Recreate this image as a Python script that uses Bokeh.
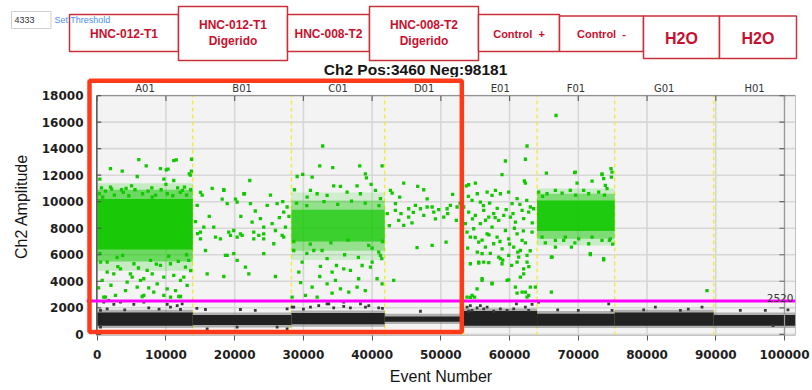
from bokeh.plotting import figure
from bokeh.layouts import column
from bokeh.models import Range1d, FixedTicker, Span, Label, BoxAnnotation, BasicTickFormatter
from bokeh.core.properties import value
from bokeh.embed import file_html
from bokeh.resources import INLINE

# ---------------- data ----------------
title_text = "Ch2 Pos:3460 Neg:98181"
x_label = "Event Number"
y_label = "Ch2 Amplitude"
wells = ["A01", "B01", "C01", "D01", "E01", "F01", "G01", "H01"]
well_edges = [0, 13900, 28260, 41830, 53300, 64000, 75290, 89690, 101600]
x_ticks = [0, 10000, 20000, 30000, 40000, 50000, 60000, 70000, 80000, 90000, 100000]
y_ticks = [0, 2000, 4000, 6000, 8000, 10000, 12000, 14000, 16000, 18000]
threshold = 2520
threshold_box_value = "4333"
header_labels = [["HNC-012-T1"], ["HNC-012-T1", "Digerido"], ["HNC-008-T2"],
                 ["HNC-008-T2", "Digerido"], ["Control\u00a0\u00a0+"], ["Control\u00a0\u00a0-"], ["H2O"], ["H2O"]]
highlighted_wells = ["A01", "B01", "C01", "D01"]

# negative (black) droplet band per well
band_low = [650, 700, 750, 950, 650, 650, 650, 650]
band_high = [1650, 1450, 1600, 1350, 1750, 1550, 1650, 1450]

# dense positive (green) clusters: core, fringe and outer halo amplitude limits
core_wells = ["A01", "C01", "F01"]
core_lo = [6400, 7000, 7800]
core_hi = [10200, 9400, 10100]
fringe_lo = [5500, 6300, 7200]
fringe_hi = [10900, 10100, 10600]
halo_lo = [4800, 5600, 6700]
halo_hi = [11400, 10700, 11000]

a01_pos = [(6050, 13170), (11140, 13100), (11500, 13150), (13720, 13200), (1930, 12500), (3640, 12300),
           (7130, 12700), (9200, 12500), (10040, 12400), (10300, 12450), (380, 11700), (5820, 11900),
           (13570, 12000), (13700, 12300), (13400, 12100), (11140, 11600), (9700, 11700), (625, 11050),
           (1930, 11100), (3540, 10900), (5000, 11200), (7950, 11050), (10000, 11300), (11700, 11050),
           (12400, 10850), (300, 10600), (1200, 10800), (2500, 10500), (3800, 10700), (4600, 10450),
           (5500, 10900), (6600, 10600), (7400, 10800), (8500, 10500), (9300, 10900), (10200, 10600),
           (11000, 10450), (12100, 10700), (13000, 10500), (13600, 10900), (800, 10350), (2100, 10950),
           (4200, 11000), (8000, 10350), (12700, 11100), (480, 5440), (1450, 4690), (2410, 4560),
           (3390, 4940), (4360, 3930), (5090, 4310), (6300, 4060), (6780, 4190), (7270, 4820),
           (8230, 3180), (8730, 3810), (10180, 3430), (10660, 5320), (11140, 4440), (12120, 4060),
           (12600, 4310), (12840, 5060), (13320, 5570), (730, 4060), (1210, 2800), (2660, 2930),
           (4120, 3300), (6780, 2930), (9690, 2930), (11870, 2850), (1450, 5440), (2900, 5800),
           (5340, 5320), (7760, 5570), (9200, 5200), (4830, 4560), (5820, 3560), (8000, 4560),
           (9690, 4310), (13080, 3690), (960, 2800), (6540, 2850), (10660, 2800), (12120, 2850),
           (3000, 5100), (6000, 5000), (8600, 5300), (11800, 5500), (13600, 4800), (200, 3500),
           (2000, 3700), (7500, 3500), (11400, 3300), (13000, 6000), (400, 6100), (3700, 5950),
           (10400, 5900)]
b01_pos = [(15030, 10700), (15270, 10500), (16730, 11000), (18420, 10900), (18180, 10200), (18910, 9850),
           (20120, 10200), (20360, 9970), (22200, 11600), (21420, 10600), (22300, 9850), (23750, 8720),
           (25210, 10500), (24730, 9720), (26180, 9850), (27140, 9220), (27630, 9600), (14550, 9720),
           (15510, 8080), (15030, 7200), (16960, 8080), (17210, 7330), (17930, 7200), (19140, 7700),
           (19870, 7830), (20360, 7330), (21090, 7460), (22540, 8460), (22780, 7700), (23510, 7460),
           (24230, 7200), (25450, 8340), (25930, 7830), (26910, 7460), (27390, 8080), (24230, 8080),
           (15750, 6320), (18660, 5950), (19870, 6080), (20360, 5570), (21570, 5060), (16000, 4560),
           (18420, 4360), (25930, 4360), (24230, 6080), (18910, 5950), (22060, 4560), (15030, 7700),
           (19390, 7460), (20840, 7580), (22780, 7200), (24230, 7580), (25690, 6830), (27140, 7330),
           (18420, 10850), (21330, 10600), (14300, 8500), (14600, 7600), (27900, 8900), (26500, 8800),
           (16300, 8900), (20900, 8900), (23000, 9300), (27000, 10000)]
c01_pos = [(32810, 14200), (32380, 12700), (34270, 12570), (38200, 12700), (41450, 12700), (29090, 11900),
           (29900, 12060), (31270, 11860), (39020, 12100), (39170, 11800), (34410, 11200), (35390, 11150),
           (37810, 11200), (39850, 11300), (28700, 10900), (31030, 10850), (32000, 10600), (33450, 10470),
           (36360, 10720), (40480, 10850), (38300, 10600), (30540, 10350), (41210, 10230), (29000, 9900),
           (30500, 9700), (33000, 10000), (35000, 9800), (37000, 10050), (39000, 9900), (41000, 9700),
           (28600, 7000), (31000, 6800), (34000, 6900), (36500, 7100), (39500, 6700), (41500, 7000),
           (28600, 6320), (29820, 5440), (29330, 4690), (31510, 6320), (32720, 6320), (33450, 5700),
           (32480, 5120), (32380, 4360), (34810, 5190), (35870, 4940), (34180, 4690), (36840, 4820),
           (38540, 5190), (39750, 5060), (40000, 5440), (40960, 6200), (41210, 5950), (41400, 5700),
           (38050, 4190), (40720, 4190), (41450, 3810), (31270, 3560), (33450, 3810), (34660, 4060),
           (35390, 3430), (36600, 3180), (34180, 3100), (37810, 3560), (30300, 2930), (32000, 2800),
           (28360, 2800), (36000, 6000), (38000, 5800), (30500, 6100), (40000, 6500), (39000, 3300),
           (29600, 3900)]
d01_pos = [(44600, 11400), (46630, 11150), (47510, 10900), (42660, 10850), (42910, 10650), (48000, 10220),
           (44010, 10350), (43390, 9850), (46300, 9720), (45320, 9470), (47030, 9470), (48000, 9600),
           (48730, 9600), (49690, 9400), (50910, 9470), (51720, 10550), (51390, 9720), (52360, 9600),
           (43390, 9340), (43870, 8590), (44600, 8210), (45320, 8840), (47510, 8970), (48970, 9220),
           (50420, 8840), (52260, 8590), (46540, 6530), (48730, 6700), (50760, 6950), (43140, 4060),
           (42200, 9100), (42500, 8200), (44200, 9100), (46000, 9200), (49200, 8700), (51000, 9100),
           (52800, 9900), (45800, 8400)]
e01_pos = [(62540, 14200), (62300, 13200), (59390, 13070), (58900, 12040), (62150, 11560), (62300, 11400),
           (55020, 11400), (54050, 11280), (53710, 11200), (54540, 10100), (55750, 9970), (56730, 10720),
           (57450, 10470), (57940, 10850), (58660, 10600), (59870, 10720), (60360, 9850), (61090, 10230),
           (61820, 9340), (63020, 9600), (63500, 9470), (54050, 9220), (55020, 8970), (56240, 9340),
           (56970, 8840), (57690, 9100), (58420, 8590), (59150, 8970), (60120, 8840), (60840, 8460),
           (62050, 8720), (62780, 9220), (53570, 8340), (54780, 7960), (55750, 8340), (56730, 7580),
           (57450, 8080), (58180, 7330), (59390, 7830), (59870, 7200), (61090, 7580), (61820, 7080),
           (63270, 7700), (54290, 7330), (55510, 6950), (56480, 6570), (57690, 6830), (58910, 6450),
           (60600, 6570), (61570, 6320), (62540, 5950), (56000, 6080), (58420, 5820), (59870, 5950),
           (54290, 5320), (55510, 5440), (61090, 5440), (62050, 4940), (61570, 4310), (59870, 4110),
           (56000, 4190), (57450, 3810), (55270, 3430), (60840, 3560), (62300, 3180), (62780, 2930),
           (63750, 3560), (53320, 9600), (54540, 2930), (55510, 5370), (56240, 5440), (56970, 5400),
           (58660, 5700), (58900, 5320), (61330, 5820), (62540, 5440), (56000, 4060), (57450, 3860),
           (59630, 4060), (62050, 4560), (61090, 3100), (61820, 3180), (62540, 2800), (53810, 2800),
           (54300, 2780), (54900, 2800), (63020, 3560), (54000, 10400), (55300, 10600), (56200, 9700),
           (57100, 9900), (58200, 9500), (59500, 9400), (60500, 9100), (61500, 9800), (62500, 10100),
           (63300, 8400), (53800, 7700), (55000, 7300), (56000, 7100), (57000, 7500), (58600, 7000),
           (60000, 6800), (61200, 6200), (62300, 6900), (63000, 6300), (53900, 6500), (55300, 6200),
           (57200, 6100), (59000, 5600), (60300, 5200), (62800, 5100), (57900, 8800), (60700, 8000),
           (62000, 7800), (56500, 8600), (54600, 8700)]
f01_pos = [(66760, 16500), (65350, 12160), (69570, 12230), (73450, 12100), (74760, 12500), (74900, 12230),
           (73690, 11740), (69820, 11400), (72000, 11550), (69470, 12190), (73450, 12040), (73930, 11230),
           (74810, 11860), (64230, 10720), (66660, 10850), (68840, 10850), (70780, 10850), (72960, 10720),
           (74180, 10980), (65450, 10600), (67640, 10650), (71510, 10600), (64800, 10400), (69600, 10500),
           (73800, 10500), (64730, 7330), (66660, 7080), (68110, 7330), (70050, 7200), (72000, 7330),
           (73450, 7080), (74660, 7200), (66660, 6570), (68990, 6570), (71510, 6830), (71750, 6080),
           (73690, 5700), (66080, 5820), (66080, 3180), (74520, 7080), (66180, 5820), (71750, 6020),
           (73690, 5620), (67870, 7080), (65200, 6900), (69500, 6900), (75000, 6800)]
g01_pos = [(88730, 3300)]
neg_outliers = [(960, 2420), (1690, 2550), (2420, 2250), (3390, 2420), (5330, 2250), (6780, 2420),
                (10180, 2250), (10660, 2050), (11640, 2170), (12120, 1870), (480, 1800), (1450, 1920),
                (12360, 2300), (20840, 1870), (15750, 1870), (28360, 2050), (27630, 1920), (26180, 540),
                (27630, 410), (16000, 410), (20360, 540), (480, 540), (28600, 2050), (31030, 2050),
                (32230, 2170), (33690, 2300), (34410, 2000), (35870, 2100), (36840, 2000), (38300, 2300),
                (39030, 2050), (40960, 2000), (47030, 1740), (54290, 2170), (55270, 2000), (56240, 1920),
                (54050, 1740), (53810, 2050), (54540, 1800), (55750, 2170), (56730, 2050), (57690, 1740),
                (58660, 1920), (59630, 1800), (60600, 1920), (62300, 2050), (62780, 1800), (63270, 2250),
                (64230, 2420), (74420, 2300), (74910, 1800), (79510, 1850), (81210, 2050), (84850, 1800),
                (88000, 2050), (93570, 1800), (97210, 1800), (33450, 2300), (35870, 2420), (39510, 2170),
                (98330, 660), (7500, 2000), (9000, 1900), (4000, 1850), (14500, 1950), (23000, 1800),
                (30000, 1900), (41500, 1950), (61000, 2300), (67000, 1850), (70000, 1800), (86000, 1900),
                (100500, 1850)]

# ---------------- layout ----------------
W, H = 812, 390
HDR_H = 77                      # header strip height (px)
FL, FR, FB = 86, 795, 335       # main frame edges on the page (px)
X0, X1 = -1557, 101600          # x range covering the main frame
Y0, Y1 = -90, 19367             # y range covering the main frame
PX0, PY1 = -60, 18000           # plotting-area corner (left, top)

FONT = "Liberation Sans"
TEXT_RED = "#c8102e"

# ---------- header strip ----------
hdr = figure(width=W, height=HDR_H, output_backend="svg", toolbar_location=None, title=None,
             x_range=Range1d(0, W), y_range=Range1d(HDR_H, 0), x_axis_type=None, y_axis_type=None,
             min_border=0, background_fill_color="white", border_fill_color="white",
             outline_line_color=None)
hdr.grid.visible = False

box_geo = [(69, 178, 14, 51), (178, 287, 6, 60), (287, 369, 14, 51), (369, 478, 6, 60),
           (478, 559, 14, 51), (559, 643, 15.5, 51), (643, 719, 15.5, 58), (719, 796, 15.5, 58)]
box_font = [12, 12, 12, 12, 11, 11, 16, 16]
hdr.quad(left=[g[0] for g in box_geo], right=[g[1] for g in box_geo],
         top=[g[2] for g in box_geo], bottom=[g[3] for g in box_geo],
         fill_color="white", line_color="#c9303a", line_width=1.5)
tx, ty, tt, tf = [], [], [], []
for (l, r, t, b), lines, fs in zip(box_geo, header_labels, box_font):
    cx = (l + r) / 2
    cys = [33.3 if fs < 16 else 37.5] if len(lines) == 1 else [24.5, 40.7]
    for txt, cy in zip(lines, cys):
        tx.append(cx); ty.append(cy); tt.append(txt); tf.append(f"{fs}px")
hdr.text(x=tx, y=ty, text=tt, text_font_size=tf, text_font=value(FONT), text_font_style="bold",
         text_color=TEXT_RED, text_align="center", text_baseline="middle")

hdr.quad(left=[11], right=[50.5], top=[11], bottom=[28], fill_color="white", line_color="#cfcfcf", line_width=1)
hdr.text(x=[14], y=[19.8], text=[threshold_box_value], text_font=value(FONT), text_font_size="9px",
         text_color="#333333", text_align="left", text_baseline="middle")
hdr.text(x=[54], y=[19.5], text=["Set Threshold"], text_font=value(FONT), text_font_size="9px",
         text_color="#4a8ff0", text_align="left", text_baseline="middle")
hdr.text(x=[415], y=[69], text=[title_text], text_font=value(FONT), text_font_size="15.5px",
         text_font_style="bold", text_color="#151515", text_align="center", text_baseline="middle")

# ---------- main plot ----------
p = figure(width=W, height=H - HDR_H, output_backend="svg", toolbar_location=None, title=None,
           x_range=Range1d(X0, X1), y_range=Range1d(Y0, Y1),
           min_border_left=FL, min_border_right=W - FR, min_border_top=0, min_border_bottom=H - FB,
           background_fill_color="white", border_fill_color="white", outline_line_color=None)
p.grid.visible = False

for fig in (hdr, p):
    if "frame_align" in fig.properties():
        fig.frame_align = False

for ax in (p.xaxis[0], p.yaxis[0]):
    ax.minor_tick_line_color = None
    ax.axis_line_color = None
    ax.major_tick_line_color = "#555555"
    ax.major_label_text_font = "DejaVu Sans"
    ax.major_label_text_font_size = "12px"
    ax.major_label_text_font_style = "bold"
    ax.major_label_text_color = "#1e1e1e"
    ax.axis_label_text_font = FONT
    ax.axis_label_text_font_size = "16px"
    ax.axis_label_text_font_style = "normal"
    ax.axis_label_text_color = "#151515"

p.xaxis.ticker = FixedTicker(ticks=x_ticks)
p.xaxis.formatter = BasicTickFormatter(use_scientific=False)
p.xaxis.major_tick_out = 5
p.xaxis.major_tick_in = 0
p.xaxis.major_label_standoff = 9
p.xaxis.axis_label = x_label
p.xaxis.axis_label_standoff = 6

p.yaxis.ticker = FixedTicker(ticks=y_ticks)
p.yaxis.major_tick_out = 0
p.yaxis.major_tick_in = 0
p.yaxis.major_label_standoff = 3
p.yaxis.axis_label = y_label
p.yaxis.axis_label_standoff = 9

# plotting area background + grid
p.quad(left=[PX0], right=[X1], bottom=[Y0], top=[PY1], fill_color="#f3f3f3", line_color=None)
p.segment(x0=x_ticks, x1=x_ticks, y0=[Y0] * len(x_ticks), y1=[PY1] * len(x_ticks),
          line_color="#d7d7d7", line_width=1.6)
p.segment(x0=[PX0] * len(y_ticks), x1=[X1] * len(y_ticks), y0=y_ticks, y1=y_ticks,
          line_color="#d7d7d7", line_width=1.6)

# well separators (yellow dashed)
seps = well_edges[1:-1]
p.segment(x0=seps, x1=seps, y0=[Y0] * len(seps), y1=[PY1] * len(seps),
          line_color="#f4ea3c", line_width=1.4, line_dash="4 3")

# negative band
lefts = well_edges[:-1]
rights = well_edges[1:]
p.quad(left=lefts, right=rights, bottom=[b - 180 for b in band_low], top=[t + 200 for t in band_high],
       fill_color="#6e6e6e", fill_alpha=0.5, line_color=None)
p.quad(left=lefts, right=rights, bottom=band_low, top=band_high, fill_color="#222222", line_color=None)

# dense positive clusters
GREEN = "#12c800"
ci = [wells.index(w) for w in core_wells]
halo_alpha = [0.2, 0.15, 0.18]
core_alpha = [0.92, 0.68, 0.88]
fringe_alpha = [0.5, 0.32, 0.42]
for k, i in enumerate(ci):
    p.quad(left=[well_edges[i]], right=[well_edges[i + 1]], bottom=[halo_lo[k]], top=[halo_hi[k]],
           fill_color=GREEN, fill_alpha=halo_alpha[k], line_color=None)
    p.quad(left=[well_edges[i]], right=[well_edges[i + 1]], bottom=[fringe_lo[k]], top=[fringe_hi[k]],
           fill_color=GREEN, fill_alpha=fringe_alpha[k], line_color=None)
    p.quad(left=[well_edges[i]], right=[well_edges[i + 1]], bottom=[core_lo[k]], top=[core_hi[k]],
           fill_color=GREEN, fill_alpha=core_alpha[k], line_color=None)

green_pts = a01_pos + b01_pos + c01_pos + d01_pos + e01_pos + f01_pos + g01_pos
p.scatter(x=[q[0] for q in green_pts], y=[q[1] for q in green_pts], marker="square", size=3.3,
          fill_color=GREEN, line_color=None)
p.scatter(x=[q[0] for q in neg_outliers], y=[q[1] for q in neg_outliers], marker="square", size=2.8,
          fill_color="#3a3a3a", line_color=None)

# frame lines and inner ticks
p.quad(left=[PX0], right=[X1], bottom=[Y0], top=[PY1], fill_color=None, line_color="#8a8a8a", line_width=1)
p.segment(x0=[PX0], x1=[PX0], y0=[Y0], y1=[PY1], line_color="#555555", line_width=1.3)
p.segment(x0=[PX0] * len(y_ticks), x1=[PX0 + 640] * len(y_ticks), y0=y_ticks, y1=y_ticks,
          line_color="#555555", line_width=1.2)
p.segment(x0=x_ticks, x1=x_ticks, y0=[PY1] * len(x_ticks), y1=[PY1 - 400] * len(x_ticks),
          line_color="#666666", line_width=1.2)
p.segment(x0=[x_ticks[-1]], x1=[x_ticks[-1]], y0=[Y0], y1=[PY1], line_color="#9a9a9a", line_width=1.2)
p.segment(x0=[x_ticks[-1] - 750] * len(y_ticks), x1=[x_ticks[-1]] * len(y_ticks), y0=y_ticks, y1=y_ticks,
          line_color="#666666", line_width=1.2)

# well names strip
well_centers = [(well_edges[i] + well_edges[i + 1]) / 2 for i in range(len(wells))]
p.text(x=well_centers, y=[PY1 + 530] * len(wells), text=wells, text_font=value("DejaVu Sans"),
       text_font_size="10px", text_color="#333333", text_align="center", text_baseline="middle")

# threshold
p.add_layout(Span(location=threshold, dimension="width", line_color="#ff00ff", line_width=3))
p.add_layout(Label(x=x_ticks[-1] + 1300, y=threshold + 230, text=str(threshold), text_align="right",
                   text_baseline="alphabetic", text_font="DejaVu Sans", text_font_size="10.5px",
                   text_color="#333333"))

# highlight rectangle around the first four wells
hl_right = well_edges[wells.index(highlighted_wells[-1]) + 1] - 250
p.add_layout(BoxAnnotation(left=-1120, right=hl_right, bottom=170, top=19130,
                           fill_alpha=0, line_color="#ff3a1a", line_alpha=1, line_width=4.5))

open("out.html", "w").write(file_html(column(hdr, p, spacing=0), INLINE))
